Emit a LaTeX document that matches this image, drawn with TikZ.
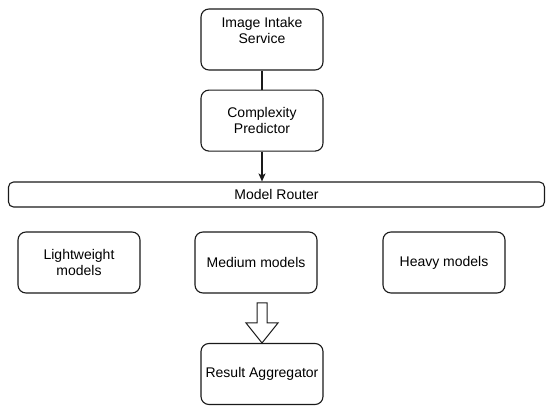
\documentclass[tikz,border=0pt]{standalone}
\usepackage{fontspec}
\setmainfont{Liberation Sans}
\usetikzlibrary{arrows.meta,positioning,calc}
\definecolor{inkline}{HTML}{1A1A1A}
\tikzset{
  stagebox/.style={
    draw=inkline,
    line width=1.1pt,
    rounded corners=8pt,
    fill=white,
    minimum width=122pt,
    minimum height=61pt,
    align=center,
    font=\fontsize{14}{16.5}\selectfont
  },
  routerbar/.style={
    stagebox,
    rounded corners=5pt,
    minimum width=536pt,
    minimum height=25pt
  },
  flowline/.style={line width=1.1pt,draw=inkline},
  flowarrow/.style={flowline,-{Stealth[length=8pt,width=7pt,inset=2pt]}}
}
\begin{document}
\begin{tikzpicture}[x=1pt,y=-1pt]
\useasboundingbox (0,0) rectangle (550,413);
\node[stagebox,text depth=18pt] (intake) at (262,39.5) {Image Intake\\Service};
\node[stagebox,below=19pt of intake] (predictor) {Complexity\\Predictor};
\node[routerbar] (router) at (276.5,194.5) {Model Router};
\node[stagebox] (light) at (79,262.5) {Lightweight\\models};
\node[stagebox] (medium) at (256,262.5) {Medium models};
\node[stagebox] (heavy) at (444,262.5) {Heavy models};
\node[stagebox] (aggregator) at (262,374) {Result Aggregator};
\draw[flowline] (intake) -- (predictor);
\draw[flowarrow] (predictor.south) -- (predictor.south |- router.north);
% hollow block arrow into the aggregator
\draw[flowline,line width=1pt,fill=white]
  ($(aggregator.north)+(-5,-40)$) -- ($(aggregator.north)+(5,-40)$)
  -- ($(aggregator.north)+(5,-20)$) -- ($(aggregator.north)+(16,-20)$)
  -- (aggregator.north) -- ($(aggregator.north)+(-16,-20)$)
  -- ($(aggregator.north)+(-5,-20)$) -- cycle;
\end{tikzpicture}
\end{document}
